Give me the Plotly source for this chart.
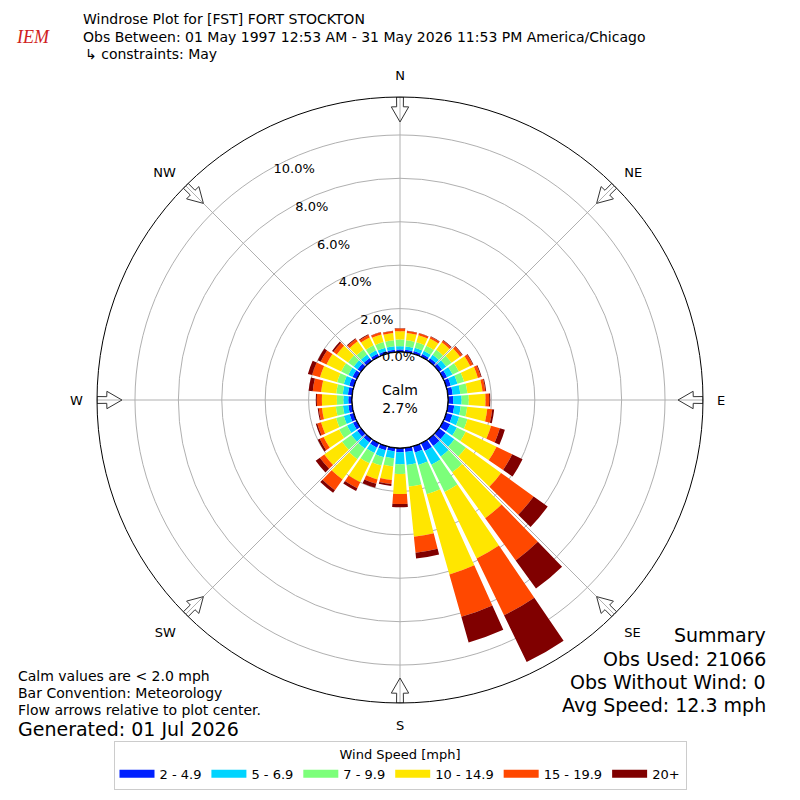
import plotly.graph_objects as go

# Wind directions (degrees, meteorological), one bar every 10 degrees
directions = list(range(0, 360, 10))

# Percent of observations per speed bin for each direction
speed_2_5 = [0.12, 0.12, 0.13, 0.14, 0.16, 0.18, 0.20, 0.22, 0.23, 0.24, 0.30, 0.30,
             0.36, 0.38, 0.40, 0.40, 0.30, 0.20, 0.20, 0.17, 0.20, 0.23, 0.20, 0.22,
             0.20, 0.20, 0.18, 0.17, 0.20, 0.22, 0.22, 0.20, 0.18, 0.15, 0.13, 0.12]
speed_5_7 = [0.15, 0.15, 0.16, 0.17, 0.20, 0.24, 0.28, 0.32, 0.35, 0.39, 0.30, 0.32,
             0.34, 0.50, 0.60, 0.70, 0.60, 0.60, 0.55, 0.32, 0.33, 0.27, 0.35, 0.33,
             0.30, 0.28, 0.25, 0.23, 0.24, 0.26, 0.22, 0.22, 0.20, 0.18, 0.16, 0.16]
speed_7_10 = [0.31, 0.28, 0.26, 0.26, 0.28, 0.30, 0.32, 0.32, 0.33, 0.33, 0.30, 0.40,
              0.45, 0.65, 0.90, 1.40, 1.40, 1.00, 0.45, 0.38, 0.40, 0.53, 0.60, 0.53,
              0.40, 0.37, 0.33, 0.30, 0.30, 0.32, 0.36, 0.32, 0.28, 0.26, 0.28, 0.28]
speed_10_15 = [0.38, 0.34, 0.34, 0.36, 0.43, 0.48, 0.58, 0.66, 0.70, 0.77, 0.93, 1.13,
               1.58, 2.00, 2.60, 3.40, 3.84, 2.32, 0.92, 0.62, 0.66, 0.97, 1.16, 1.01,
               0.80, 0.72, 0.64, 0.69, 0.70, 0.82, 0.75, 0.64, 0.46, 0.40, 0.36, 0.33]
speed_15_20 = [0.12, 0.09, 0.09, 0.10, 0.10, 0.12, 0.14, 0.14, 0.13, 0.17, 0.23, 0.42,
               0.80, 1.85, 2.40, 2.90, 2.03, 0.74, 0.46, 0.19, 0.21, 0.30, 0.60, 0.25,
               0.20, 0.18, 0.15, 0.23, 0.39, 0.38, 0.30, 0.19, 0.14, 0.12, 0.10, 0.09]
speed_20 = [0.02, 0.02, 0.02, 0.02, 0.03, 0.03, 0.03, 0.04, 0.04, 0.05, 0.09, 0.24,
            0.53, 0.80, 1.60, 2.40, 1.23, 0.27, 0.15, 0.09, 0.19, 0.14, 0.15, 0.24,
            0.10, 0.07, 0.05, 0.05, 0.19, 0.20, 0.15, 0.08, 0.04, 0.04, 0.02, 0.02]

bin_labels = ["2 - 4.9", "5 - 6.9", "7 - 9.9", "10 - 14.9", "15 - 19.9", "20+"]
bin_colors = ["#0020ff", "#00d4ff", "#7cff7a", "#ffe600", "#ff4800", "#800000"]
bin_values = [speed_2_5, speed_5_7, speed_7_10, speed_10_15, speed_15_20, speed_20]

compass_angles = [0, 45, 90, 135, 180, 225, 270, 315]
compass_labels = ["N", "NE", "E", "SE", "S", "SW", "W", "NW"]
ring_values = [0, 2, 4, 6, 8, 10]
ring_labels = ["0.0%", "2.0%", "4.0%", "6.0%", "8.0%", "10.0%"]
r_max = 11.75

calm_pct = 2.7
font = "DejaVu Sans"

# the page body has an 8px margin, so the figure is 784px and shifted
W = 784
OFF = 8

fig = go.Figure()

for label, color, vals in zip(bin_labels, bin_colors, bin_values):
    fig.add_trace(go.Barpolar(
        r=vals, theta=directions, width=8.4, name=label, showlegend=False,
        marker=dict(color=color, line=dict(width=0)),
    ))

# legend entries drawn as wide patches
for label, color in zip(bin_labels, bin_colors):
    fig.add_trace(go.Scatterpolar(
        r=[None], theta=[None], mode="lines", name=label,
        line=dict(color=color, width=8),
    ))

# black ring round the calm circle
ring_theta = list(range(0, 361, 2))
fig.add_trace(go.Scatterpolar(
    r=[0] * len(ring_theta), theta=ring_theta, mode="lines",
    line=dict(color="black", width=1.5), showlegend=False, hoverinfo="skip",
))

# hollow arrows pointing toward the centre
arrow_shape = [(10.6, 0), (11.3, -1.7), (11.3, -0.65), (r_max, -0.65),
               (r_max, 0.65), (11.3, 0.65), (11.3, 1.7), (10.6, 0)]
ar, at = [], []
for a in compass_angles:
    for rr, dt in arrow_shape:
        ar.append(rr)
        at.append(a + dt)
    ar.append(None)
    at.append(None)
fig.add_trace(go.Scatterpolar(
    r=ar, theta=at, mode="lines",
    line=dict(color="#333333", width=1), showlegend=False, hoverinfo="skip",
))

cx, cy, rad = 400 - OFF, 400 - OFF, 303
fig.update_layout(
    width=W, height=W,
    margin=dict(l=0, r=0, t=0, b=0),
    paper_bgcolor="white",
    font=dict(family=font, color="black"),
    polar=dict(
        domain=dict(x=[(cx - rad) / W, (cx + rad) / W],
                    y=[1 - (cy + rad) / W, 1 - (cy - rad) / W]),
        bgcolor="white",
        hole=48 / rad,
        barmode="stack",
        angularaxis=dict(
            rotation=90, direction="clockwise",
            tickvals=compass_angles, ticktext=compass_labels,
            tickfont=dict(size=13),
            ticks="outside", ticklen=11, tickcolor="rgba(0,0,0,0)",
            showline=True, linecolor="black", linewidth=1,
            gridcolor="#b0b0b0", gridwidth=1,
        ),
        radialaxis=dict(
            range=[0, r_max], tickvals=ring_values, ticktext=ring_labels,
            angle=120, tickangle=120, showline=False, ticks="",
            tickfont=dict(size=13), gridcolor="#b0b0b0", gridwidth=1,
        ),
    ),
    legend=dict(
        orientation="h", x=0.5, xanchor="center",
        y=1 - (741 - OFF) / W, yanchor="top",
        title=dict(text="Wind Speed [mph]", side="top center", font=dict(size=13)),
        font=dict(size=13), bordercolor="#cccccc", borderwidth=1,
        traceorder="normal", itemwidth=35,
    ),
)


def note(text, x, y, size, xanchor="left", color="black", **kw):
    fig.add_annotation(text=text, x=(x - OFF) / W, y=1 - (y - OFF) / W,
                       xref="paper", yref="paper",
                       xanchor=xanchor, yanchor="middle", showarrow=False,
                       font=dict(size=size, color=color, **kw), align=xanchor)


note("IEM", 14, 37, 18, color="#d02020", family="Liberation Serif", style="italic")
note("Windrose Plot for [FST] FORT STOCKTON", 81, 19, 14)
note("Obs Between: 01 May 1997 12:53 AM - 31 May 2026 11:53 PM America/Chicago", 81, 37, 14)
note("↳ constraints: May", 83, 54, 14)

note(f"Calm<br>{calm_pct}%", 400, 399, 14, xanchor="center")

note("Calm values are < 2.0 mph", 16, 676, 14)
note("Bar Convention: Meteorology", 16, 693, 14)
note("Flow arrows relative to plot center.", 16, 710, 14)
note("Generated: 01 Jul 2026", 16, 729, 19)

note("Summary", 768, 635, 19, xanchor="right")
note("Obs Used: 21066", 768, 659, 19, xanchor="right")
note("Obs Without Wind: 0", 768, 682, 19, xanchor="right")
note("Avg Speed: 12.3 mph", 768, 705, 19, xanchor="right")

fig.write_html("out.html")
